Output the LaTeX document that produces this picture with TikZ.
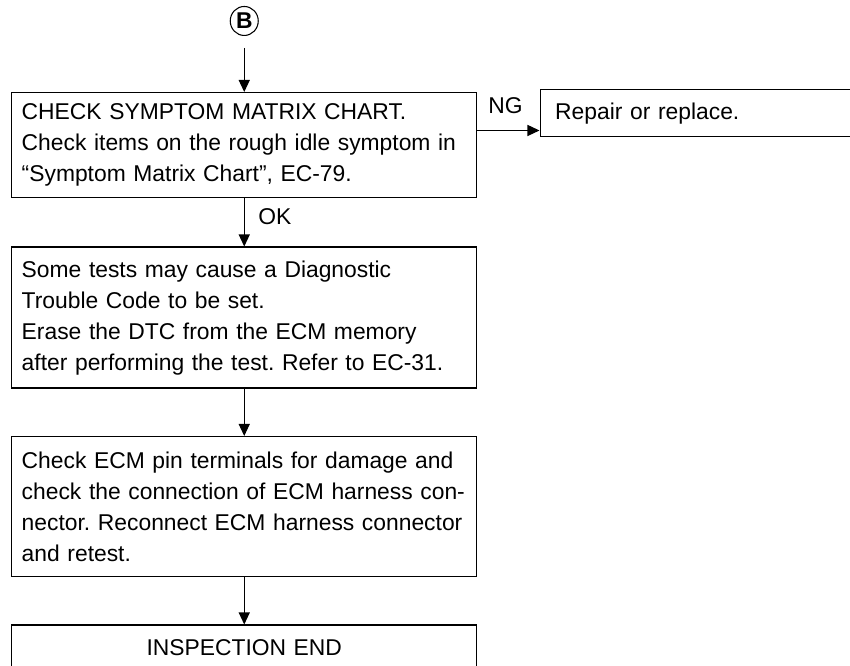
\documentclass[tikz,border=0pt]{standalone}
\usepackage{fontspec}
\setmainfont{Liberation Sans}
\usepackage{tikz}
\usetikzlibrary{shapes.geometric, arrows.meta, positioning}
\frenchspacing

\begin{document}
\begin{tikzpicture}[node distance=0.94cm, auto]
    % Styles
    \tikzstyle{block} = [rectangle, draw, line width=0.85pt, text width=8.9cm, inner xsep=0.2cm, align=left, font=\fontsize{13}{17.6}\selectfont]
    \tikzstyle{small} = [rectangle, draw, line width=0.85pt, text width=5.6cm, inner xsep=0.3cm, align=left, minimum height=0.94cm, font=\fontsize{13}{17.6}\selectfont]
    \tikzstyle{marker} = [ellipse, draw, line width=0.6pt, minimum width=0.56cm, minimum height=0.58cm, inner sep=0pt, font=\bfseries\fontsize{13}{13}\selectfont]
    \tikzstyle{tag} = [inner sep=0pt, font=\fontsize{13}{17.6}\selectfont]
    \tikzstyle{line} = [draw, line width=0.7pt, -{Triangle[width=0.22cm, length=0.24cm]}]

    \useasboundingbox (0,0) rectangle (17,-13.32);

    % Nodes
    \node [block, minimum height=2.1cm, anchor=north west] (check) at (0.22,-1.84) {CHECK SYMPTOM MATRIX CHART.\\Check items on the rough idle symptom in\\“Symptom Matrix Chart”, EC-79.};
    \node [marker, above=1.12cm of check] (B) {B};
    \node [small, anchor=north west] (repair) at ([xshift=1.24cm, yshift=0.06cm]check.north east) {Repair or replace.};
    \coordinate (ng) at ([yshift=0.14cm]repair.south west);
    \node [block, minimum height=2.82cm, below=0.96cm of check] (dtc) {Some tests may cause a Diagnostic\\Trouble Code to be set.\\Erase the DTC from the ECM memory\\after performing the test. Refer to EC-31.};
    \node [block, minimum height=2.8cm, below=of dtc] (ecm) {Check ECM pin terminals for damage and\\check the connection of ECM harness con-\\nector. Reconnect ECM harness connector\\and retest.};
    \node [block, minimum height=0.9cm, align=center, below=of ecm] (done) {INSPECTION END};

    % Paths
    \path [line, shorten <=0.24cm] (B) -- (check);
    \path [line] (check.east |- ng) -- (ng) node [tag, above=0.32cm, pos=0.45] {NG};
    \path [line] (check) -- (dtc) node [tag, right=0.27cm, pos=0.375] {OK};
    \path [line] (dtc) -- (ecm);
    \path [line] (ecm) -- (done);
\end{tikzpicture}
\end{document}
